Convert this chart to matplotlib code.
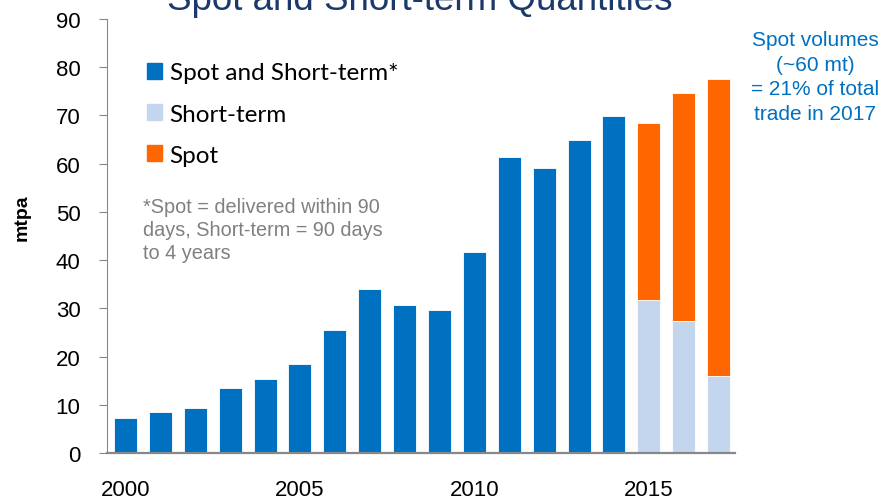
import matplotlib.pyplot as plt
from matplotlib.patches import Patch

# data (mtpa)
years = list(range(2000, 2018))
spot_short = [7.2, 8.5, 9.3, 13.4, 15.3, 18.4, 25.6, 34.0, 30.6, 29.6,
              41.6, 61.3, 59.2, 65.0, 69.8]
short_term = [31.7, 27.3, 16.0]
spot = [36.8, 47.4, 61.6]
xticks = [2000, 2005, 2010, 2015]

blue = '#0070C0'
light = '#C3D6EE'
orange = '#FF6600'

plt.rcParams['font.family'] = ['Liberation Sans', 'DejaVu Sans']

fig = plt.figure(figsize=(8.82, 5.02), dpi=100)
ax = fig.add_axes([0.1213, 0.0956, 0.712, 0.8645])

w = 0.66
ax.bar(years[:15], spot_short, width=w, color=blue, edgecolor='white', linewidth=0.6)
ax.bar(years[15:], short_term, width=w, color=light, edgecolor='white', linewidth=0.6)
ax.bar(years[15:], spot, width=w, bottom=short_term, color=orange, edgecolor='white', linewidth=0.6)

ax.set_xlim(1999.47, 2017.47)
ax.set_ylim(0, 90)
ax.set_yticks(range(0, 91, 10))
ax.set_xticks(xticks)
ax.tick_params(axis='y', labelsize=16, length=6, color='#888888', pad=13)
ax.tick_params(axis='x', labelsize=16, length=0, pad=19)
for s in ['top', 'right']:
    ax.spines[s].set_visible(False)
ax.spines['left'].set_color('#888888')
ax.spines['bottom'].set_color('#888888')
ax.spines['bottom'].set_linewidth(1.6)

# y label sits above the axis middle in the original
fig.text(22 / 882, 1 - 218 / 502, 'mtpa', rotation=90, ha='center', va='center',
         fontsize=14, fontweight='bold')

handles = [Patch(color=blue), Patch(color=light), Patch(color=orange)]
ax.legend(handles, ['Spot and Short-term*', 'Short-term', 'Spot'],
          loc='upper left', bbox_to_anchor=(0.064, 0.90), frameon=False,
          borderaxespad=0, borderpad=0,
          prop={'family': ['Lato', 'DejaVu Sans'], 'size': 17.5},
          handlelength=0.62, handleheight=0.62, handletextpad=0.3, labelspacing=0.83)

ax.text(0.058, 0.59, '*Spot = delivered within 90\ndays, Short-term = 90 days\nto 4 years',
        transform=ax.transAxes, fontsize=14.3, color='#808080', va='top',
        linespacing=1.27)

fig.text(815 / 882, 1 - 31 / 502, 'Spot volumes\n(~60 mt)\n= 21% of total\ntrade in 2017',
         ha='center', va='top', fontsize=15, color=blue, linespacing=1.38)

fig.text(420 / 882, 1 - 10 / 502, 'Spot and Short-term Quantities', ha='center', va='baseline',
         fontsize=26.5, color='#1B3A6B')

fig.savefig('out.png', dpi=100)
